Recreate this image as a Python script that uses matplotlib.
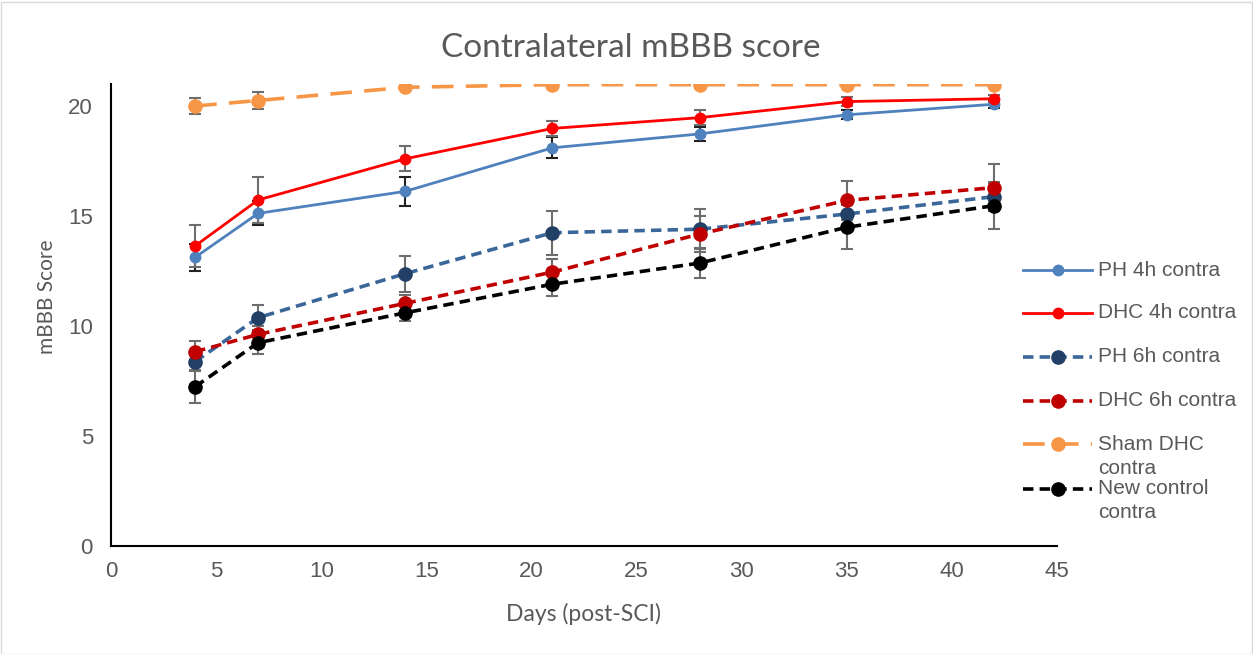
import matplotlib
matplotlib.use("Agg")
import matplotlib.pyplot as plt
from matplotlib.lines import Line2D
from matplotlib.patches import Rectangle

days = [4, 7, 14, 21, 28, 35, 42]

ph_4h = [13.12, 15.12, 16.12, 18.10, 18.73, 19.60, 20.08]
ph_4h_err = [0.62, 0.55, 0.65, 0.48, 0.30, 0.20, 0.15]
dhc_4h = [13.64, 15.73, 17.60, 18.98, 19.47, 20.20, 20.33]
dhc_4h_err = [0.97, 1.05, 0.57, 0.35, 0.35, 0.20, 0.15]
ph_6h = [8.38, 10.38, 12.38, 14.24, 14.40, 15.09, 15.88]
ph_6h_err = [0.43, 0.57, 0.82, 1.00, 0.90, 0.50, 0.60]
dhc_6h = [8.83, 9.62, 11.03, 12.45, 14.18, 15.71, 16.29]
dhc_6h_err = [0.50, 0.40, 0.40, 0.60, 0.80, 0.88, 1.06]
sham = [20.00, 20.25, 20.85, 20.97, 20.97, 20.97, 20.97]
sham_err = [0.38, 0.37, 0.0, 0.0, 0.0, 0.0, 0.0]
ctrl = [7.24, 9.24, 10.60, 11.90, 12.86, 14.49, 15.47]
ctrl_err = [0.76, 0.50, 0.38, 0.52, 0.70, 1.00, 1.08]

labels = ["PH 4h contra", "DHC 4h contra", "PH 6h contra", "DHC 6h contra",
          "Sham DHC\ncontra", "New control\ncontra"]

W, H = 1253, 654
fig = plt.figure(figsize=(W / 100, H / 100), dpi=100)
ax = fig.add_axes([111 / W, 1 - 546 / H, (1057 - 111) / W, (546 - 84) / H])

# style of each series: line colour, marker colour, width, dashes, marker size, errbar colour
styles = [
    dict(color="#4f81bd", mfc="#4f81bd", lw=2.0, ls="-", ms=7.5, ecol="#222222"),
    dict(color="#ff0000", mfc="#ff0000", lw=2.0, ls="-", ms=7.5, ecol="#6d6d6d"),
    dict(color="#3a6699", mfc="#223f66", lw=2.6, ls=(0, (2.9, 1.7)), ms=9.5, ecol="#6d6d6d"),
    dict(color="#c00000", mfc="#c00000", lw=2.6, ls=(0, (2.9, 1.7)), ms=9.5, ecol="#6d6d6d"),
    dict(color="#f79646", mfc="#f79646", lw=2.6, ls=(0, (6.0, 3.4)), ms=9.5, ecol="#6d6d6d"),
    dict(color="#000000", mfc="#000000", lw=2.6, ls=(0, (2.9, 1.7)), ms=9.5, ecol="#6d6d6d"),
]
series = [(ph_4h, ph_4h_err), (dhc_4h, dhc_4h_err), (ph_6h, ph_6h_err),
          (dhc_6h, dhc_6h_err), (sham, sham_err), (ctrl, ctrl_err)]

for (vals, errs), st in zip(series, styles):
    ax.errorbar(days, vals, yerr=errs, fmt="none", ecolor=st["ecol"],
                elinewidth=1.5, capsize=4, capthick=1.5, zorder=2)
    ax.plot(days, vals, color=st["color"], lw=st["lw"], ls=st["ls"],
            marker="o", ms=st["ms"], mfc=st["mfc"], mec=st["mfc"], zorder=3)

ax.set_xlim(0, 45)
ax.set_ylim(0, 21)
ax.set_xticks(range(0, 46, 5))
ax.set_yticks(range(0, 21, 5))
for s in ["top", "right"]:
    ax.spines[s].set_visible(False)
for s in ["left", "bottom"]:
    ax.spines[s].set_linewidth(1.5)
    ax.spines[s].set_color("black")
ax.tick_params(length=0, labelsize=16, labelcolor="#595959")
ax.tick_params(axis="y", pad=13)
ax.tick_params(axis="x", pad=11)
for t in ax.get_xticklabels() + ax.get_yticklabels():
    t.set_family("Liberation Sans")

fig.text(631 / W, 1 - 48 / H, "Contralateral mBBB score", ha="center", va="center",
         fontsize=24, color="#595959", family="Lato")
fig.text(584 / W, 1 - 614 / H, "Days (post-SCI)", ha="center", va="center",
         fontsize=16.5, color="#595959", family="Lato")
fig.text(47 / W, 1 - 297 / H, "mBBB Score", ha="center", va="center", rotation=90,
         fontsize=15, color="#595959", family="Lato")

# legend drawn by hand so that wrapped labels line up like the original
leg_y = [270, 313, 357, 401, 444, 489]
for lab, st, y in zip(labels, styles, leg_y):
    yy = 1 - y / H
    ln = Line2D([1023 / W, 1058 / W, 1092 / W], [yy, yy, yy], transform=fig.transFigure,
                color=st["color"], lw=st["lw"], ls=st["ls"], marker="o", markevery=[1],
                ms=st["ms"], mfc=st["mfc"], mec=st["mfc"])
    fig.add_artist(ln)
    for k, part in enumerate(lab.split("\n")):
        fig.text(1098 / W, 1 - (y + 24 * k) / H, part, ha="left", va="center",
                 fontsize=15, color="#595959", family="Liberation Sans")

fig.add_artist(Rectangle((0.5 / W, 0.5 / H), 1 - 2 / W, 1 - 2 / H, transform=fig.transFigure,
                         fill=False, edgecolor="#d9d9d9", lw=1))

fig.savefig("out.png", dpi=100)
